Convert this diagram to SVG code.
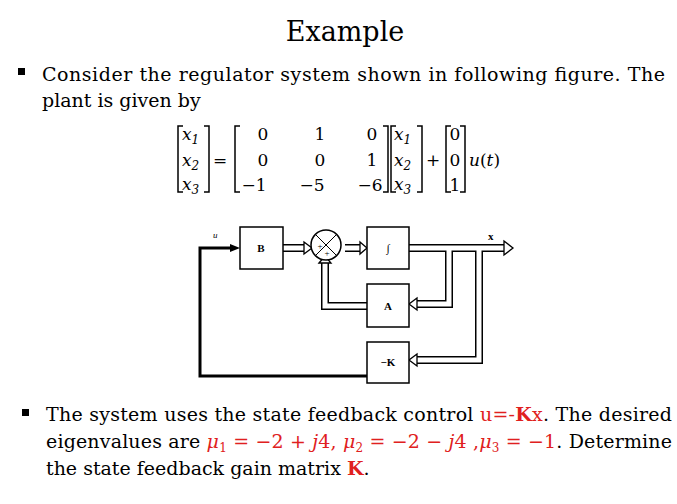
<svg xmlns="http://www.w3.org/2000/svg" width="677" height="504" viewBox="0 0 677 504">
<style>
.t{font-family:"DejaVu Serif",serif;font-size:19px;fill:#000}
.m{font-family:"DejaVu Serif",serif;font-size:17px}
.i{font-style:italic}
.r{fill:#e02020}
.br{fill:none;stroke:#000;stroke-width:1.5}
.box{fill:#fff;stroke:#000;stroke-width:1.5}
.dl{fill:none;stroke:#000;stroke-width:8}
.dw{fill:none;stroke:#fff;stroke-width:5}
.ah{fill:#fff;stroke:#000;stroke-width:1.3}
.bl{font-family:"Liberation Serif",serif;font-size:11px;font-weight:bold}
</style>
<rect width="677" height="504" fill="#fff"/>
<text x="345" y="41" text-anchor="middle" class="t" style="font-size:27px">Example</text>
<rect x="18" y="68" width="7" height="7"/>
<text x="42" y="81" class="t" textLength="623" lengthAdjust="spacing">Consider the regulator system shown in following figure. The</text>
<text x="42" y="107" class="t">plant is given by</text>
<g id="equation" class="m">
<path class="br" d="M183,126h-5v66h5M204,126h5v66h-5"/>
<text x="182" y="140" class="i">x<tspan font-size="12" dy="4">1</tspan></text>
<text x="182" y="166" class="i">x<tspan font-size="12" dy="4">2</tspan></text>
<text x="182" y="190" class="i">x<tspan font-size="12" dy="4">3</tspan></text>
<text x="213" y="166">=</text>
<path class="br" d="M240,126h-5v66h5M383,126h5v66h-5"/>
<text x="263" y="140" text-anchor="middle">0</text><text x="320" y="140" text-anchor="middle">1</text><text x="372" y="140" text-anchor="middle">0</text>
<text x="263" y="166" text-anchor="middle">0</text><text x="320" y="166" text-anchor="middle">0</text><text x="372" y="166" text-anchor="middle">1</text>
<text x="254" y="191" text-anchor="middle">−1</text><text x="312" y="191" text-anchor="middle">−5</text><text x="370" y="191" text-anchor="middle">−6</text>
<path class="br" d="M396,126h-5v66h5M417,126h5v66h-5"/>
<text x="394" y="140" class="i">x<tspan font-size="12" dy="4">1</tspan></text>
<text x="394" y="166" class="i">x<tspan font-size="12" dy="4">2</tspan></text>
<text x="394" y="190" class="i">x<tspan font-size="12" dy="4">3</tspan></text>
<text x="426" y="166">+</text>
<path class="br" d="M451,126h-5v66h5M460,126h5v66h-5"/>
<text x="455" y="140" text-anchor="middle">0</text><text x="455" y="166" text-anchor="middle">0</text><text x="455" y="191" text-anchor="middle">1</text>
<text x="469" y="166" class="i">u<tspan font-style="normal">(</tspan>t<tspan font-style="normal">)</tspan></text>
</g>
<g id="connectors">
<path class="dl" d="M283,248H305M409,248H505M449,248V304H415M479,248V360H415M367,306H325V262M345,248H361"/>
<path class="dw" d="M283,248H305M409,248H505M449,248V304H415M479,248V360H415M367,306H325V262M345,248H361"/>
<polygon class="ah" points="304,242 312,248 304,254"/>
<polygon class="ah" points="360,242 367,248 360,254"/>
<polygon class="ah" points="504,241 513,248 504,255"/>
<polygon class="ah" points="417,298 409,304 417,310"/>
<polygon class="ah" points="417,354 409,360 417,366"/>
<polygon class="ah" points="319,263 325,256 331,263"/>
<path d="M367,376H200V248H232" fill="none" stroke="#000" stroke-width="3"/>
<polygon points="230,244 240,248 230,252"/>
</g>
<g id="B"><rect class="box" x="240" y="227" width="43" height="42"/><text x="261" y="252" text-anchor="middle" class="bl">B</text></g>
<g id="sum"><circle class="box" cx="326" cy="245" r="15"/><path d="M315,234l22,22M337,234l-22,22" stroke="#000"/><text x="320" y="249" text-anchor="middle" font-size="9" font-family="Liberation Serif">+</text><text x="327" y="256" text-anchor="middle" font-size="9" font-family="Liberation Serif">+</text></g>
<g id="integ"><rect class="box" x="367" y="227" width="42" height="42"/><text x="388" y="252" text-anchor="middle" class="bl i">∫</text></g>
<g id="A"><rect class="box" x="367" y="284" width="42" height="43"/><text x="388" y="310" text-anchor="middle" class="bl">A</text></g>
<g id="K"><rect class="box" x="367" y="342" width="42" height="41"/><text x="388" y="366" text-anchor="middle" class="bl">−K</text></g>
<text x="213" y="238" font-family="Liberation Serif" font-size="9" font-style="italic">u</text>
<text x="488" y="240" class="bl">x</text>
<rect x="22" y="409" width="7" height="7"/>
<text x="46" y="421" class="t" textLength="626" lengthAdjust="spacing">The system uses the state feedback control <tspan class="r">u=-<tspan font-weight="bold">K</tspan>x</tspan>. The desired</text>
<text x="46" y="448" class="t" textLength="626" lengthAdjust="spacing">eigenvalues are <tspan class="r"><tspan class="i">μ</tspan><tspan font-size="12" dy="4">1</tspan><tspan dy="-4"> = −2 + </tspan><tspan class="i">j</tspan>4, <tspan class="i">μ</tspan><tspan font-size="12" dy="4">2</tspan><tspan dy="-4"> = −2 − </tspan><tspan class="i">j</tspan>4 ,<tspan class="i">μ</tspan><tspan font-size="12" dy="4">3</tspan><tspan dy="-4"> = −1</tspan></tspan>. Determine</text>
<text x="46" y="475" class="t">the state feedback gain matrix <tspan class="r" font-weight="bold">K</tspan>.</text>
</svg>
